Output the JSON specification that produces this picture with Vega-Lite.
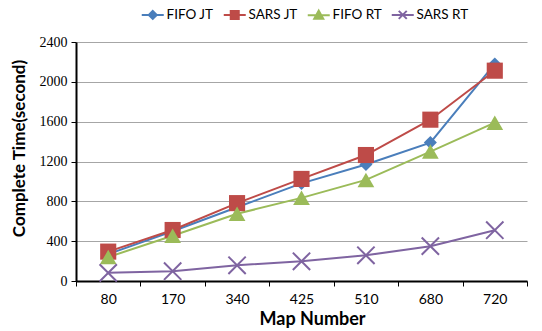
{
  "$schema": "https://vega.github.io/schema/vega-lite/v6.json",
  "width": 451,
  "height": 239,
  "autosize": {"type": "none"},
  "padding": {"left": 76, "top": 42, "right": 15, "bottom": 50},
  "background": "white",
  "config": {
    "view": {"stroke": null},
    "font": "Lato"
  },
  "data": {
    "values": [
      {"map": "80", "series": "FIFO JT", "time": 270},
      {"map": "170", "series": "FIFO JT", "time": 500},
      {"map": "340", "series": "FIFO JT", "time": 740},
      {"map": "425", "series": "FIFO JT", "time": 980},
      {"map": "510", "series": "FIFO JT", "time": 1170},
      {"map": "680", "series": "FIFO JT", "time": 1390},
      {"map": "720", "series": "FIFO JT", "time": 2180},
      {"map": "80", "series": "SARS JT", "time": 295},
      {"map": "170", "series": "SARS JT", "time": 512},
      {"map": "340", "series": "SARS JT", "time": 782},
      {"map": "425", "series": "SARS JT", "time": 1025},
      {"map": "510", "series": "SARS JT", "time": 1265},
      {"map": "680", "series": "SARS JT", "time": 1620},
      {"map": "720", "series": "SARS JT", "time": 2112},
      {"map": "80", "series": "FIFO RT", "time": 240},
      {"map": "170", "series": "FIFO RT", "time": 455},
      {"map": "340", "series": "FIFO RT", "time": 675},
      {"map": "425", "series": "FIFO RT", "time": 835},
      {"map": "510", "series": "FIFO RT", "time": 1015},
      {"map": "680", "series": "FIFO RT", "time": 1300},
      {"map": "720", "series": "FIFO RT", "time": 1590},
      {"map": "80", "series": "SARS RT", "time": 82},
      {"map": "170", "series": "SARS RT", "time": 98},
      {"map": "340", "series": "SARS RT", "time": 158},
      {"map": "425", "series": "SARS RT", "time": 198},
      {"map": "510", "series": "SARS RT", "time": 258},
      {"map": "680", "series": "SARS RT", "time": 350},
      {"map": "720", "series": "SARS RT", "time": 510}
    ]
  },
  "encoding": {
    "x": {
      "field": "map",
      "type": "ordinal",
      "sort": null,
      "bandPosition": 0.5,
      "scale": {"type": "band", "paddingInner": 0, "paddingOuter": 0},
      "axis": {
        "title": "Map Number",
        "titleFont": "Lato",
        "titleFontWeight": "bold",
        "titleFontSize": 18,
        "titleColor": "black",
        "titlePadding": 4,
        "titleX": 236,
        "labelFont": "Lato",
        "labelFontSize": 14,
        "labelColor": "black",
        "labelAngle": 0,
        "labelPadding": 6,
        "tickBand": "extent",
        "tickColor": "black",
        "tickSize": 5,
        "tickWidth": 1,
        "domainColor": "black",
        "domainWidth": 2,
        "grid": false
      }
    },
    "y": {
      "field": "time",
      "type": "quantitative",
      "scale": {"domain": [0, 2400], "nice": false},
      "axis": {
        "title": "Complete Time(second)",
        "titleFont": "Lato",
        "titleFontWeight": "bold",
        "titleFontSize": 17,
        "titleColor": "black",
        "titlePadding": 11,
        "titleY": 106,
        "values": [0, 400, 800, 1200, 1600, 2000, 2400],
        "format": "d",
        "labelFont": "Liberation Serif",
        "labelFontSize": 14,
        "labelColor": "black",
        "labelPadding": 4,
        "tickColor": "black",
        "tickSize": 5,
        "domainColor": "black",
        "domainWidth": 2,
        "grid": true,
        "gridColor": "#A6A6A6",
        "gridWidth": 1
      }
    }
  },
  "layer": [
    {
      "mark": {"type": "line", "strokeWidth": 2},
      "encoding": {
        "color": {
          "field": "series",
          "type": "nominal",
          "scale": {
            "domain": ["FIFO JT", "SARS JT", "FIFO RT", "SARS RT"],
            "range": ["#4A7EBB", "#BE4B48", "#9BBB59", "#7F64A1"]
          },
          "legend": {
            "title": null,
            "orient": "none",
            "direction": "horizontal",
            "legendX": 64,
            "legendY": -34,
            "padding": 0,
            "labelFont": "Lato",
            "labelFontSize": 13.5,
            "labelColor": "black",
            "symbolSize": 100,
            "symbolOffset": 6,
            "labelOffset": 7,
            "columnPadding": 5,
            "encode": {
              "symbols": {
                "update": {
                  "shape": {"signal": "datum.value === 'FIFO JT' ? 'M-2.2,0H2.2M0,-0.8L0.8,0L0,0.8L-0.8,0Z' : datum.value === 'SARS JT' ? 'M-2.2,0H2.2M-0.8,-0.8H0.8V0.8H-0.8Z' : datum.value === 'FIFO RT' ? 'M-2.2,0H2.2M0,-0.9L0.9,0.7L-0.9,0.7Z' : 'M-2.2,0H2.2M-0.8,-0.8L0.8,0.8M-0.8,0.8L0.8,-0.8'"},
                  "fill": {"signal": "datum.value === 'SARS RT' ? 'transparent' : scale('color', datum.value)"},
                  "stroke": {"signal": "scale('color', datum.value)"},
                  "strokeWidth": {"value": 2}
                }
              }
            }
          }
        }
      }
    },
    {
      "transform": [{"filter": "datum.series === 'FIFO JT'"}],
      "mark": {"type": "point", "shape": "diamond", "filled": true, "opacity": 1, "color": "#4A7EBB", "size": 170}
    },
    {
      "transform": [{"filter": "datum.series === 'SARS JT'"}],
      "mark": {"type": "point", "shape": "square", "filled": true, "opacity": 1, "color": "#BE4B48", "size": 260}
    },
    {
      "transform": [{"filter": "datum.series === 'FIFO RT'"}],
      "mark": {"type": "point", "shape": "triangle-up", "filled": true, "opacity": 1, "color": "#9BBB59", "size": 280}
    },
    {
      "transform": [{"filter": "datum.series === 'SARS RT'"}],
      "mark": {"type": "point", "shape": "M-1,-1L1,1M-1,1L1,-1", "filled": false, "opacity": 1, "color": "#7F64A1", "strokeWidth": 2, "size": 300}
    }
  ]
}
